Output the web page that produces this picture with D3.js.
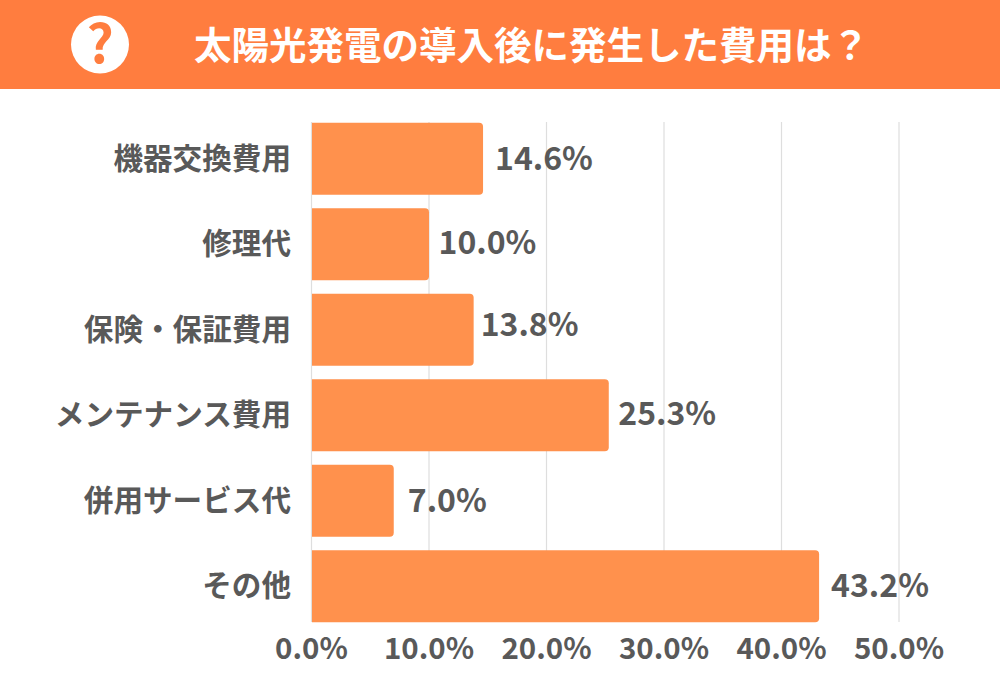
<!DOCTYPE html>
<html><head><meta charset="utf-8"><script src="https://cdn.jsdelivr.net/npm/d3@7"></script>
<style>html,body{margin:0;padding:0;background:#fff}svg{display:block}text{font-family:"Noto Sans CJK JP","Noto Sans",sans-serif}</style></head>
<body><div id="c"></div><script>
const categories=["機器交換費用","修理代","保険・保証費用","メンテナンス費用","併用サービス代","その他"];
const values=[14.6,10.0,13.8,25.3,7.0,43.2];
const valueLabels=["14.6%","10.0%","13.8%","25.3%","7.0%","43.2%"];
const labelNudgeX=[12,9.5,7,9.5,14,12];
const labelNudgeY=[0,-1,-5,-1,0,0];
const ticks=[0,10,20,30,40,50];
const titleText="太陽光発電の導入後に発生した費用は？";
const svg=d3.select("#c").append("svg").attr("width",1000).attr("height",700);
svg.append("rect").attr("width",1000).attr("height",89).attr("fill","#ff7d3f");
svg.append("circle").attr("cx",100).attr("cy",44.5).attr("r",29).attr("fill","#fff");
svg.append("text").attr("x",100).attr("y",63).attr("text-anchor","middle").attr("font-size",53).attr("font-weight",700).attr("fill","#ff7d3f").text("?");
svg.append("text").attr("x",194).attr("y",59).attr("text-anchor","start").attr("font-size",37.5).attr("font-weight",700).attr("fill","#fff").text(titleText);
const x=d3.scaleLinear().domain([0,50]).range([311.5,899]);
const y=d3.scaleBand().domain(categories).range([116,629]).paddingInner(0.16).paddingOuter(0.08);
svg.append("g").selectAll("line").data(ticks).join("line").attr("x1",d=>x(d)).attr("x2",d=>x(d)).attr("y1",122).attr("y2",622).attr("stroke","#dedede").attr("stroke-width",1.2);
svg.append("g").selectAll("path").data(values).join("path").attr("fill","#ff914d").attr("d",(d,i)=>{
 const x0=x(0)+0.5,x1=x(d),t=y(categories[i]),b=t+y.bandwidth(),r=4;
 return `M${x0},${t}H${x1-r}Q${x1},${t} ${x1},${t+r}V${b-r}Q${x1},${b} ${x1-r},${b}H${x0}Z`;});
const col="#595959";
svg.append("g").selectAll("text").data(categories).join("text").attr("x",291).attr("y",d=>y(d)+y.bandwidth()/2+10).attr("text-anchor","end").attr("font-size",29.6).attr("font-weight",700).attr("fill",col).text(d=>d);
svg.append("g").selectAll("text").data(values).join("text").attr("x",(d,i)=>x(d)+labelNudgeX[i]).attr("y",(d,i)=>y(categories[i])+y.bandwidth()/2+11+labelNudgeY[i]).attr("font-size",32).attr("font-weight",700).attr("fill",col).text((d,i)=>valueLabels[i]);
svg.append("g").selectAll("text").data(ticks).join("text").attr("x",d=>x(d)).attr("y",659).attr("text-anchor","middle").attr("font-size",29.5).attr("font-weight",700).attr("fill",col).text(d=>d.toFixed(1)+"%");
</script></body></html>
